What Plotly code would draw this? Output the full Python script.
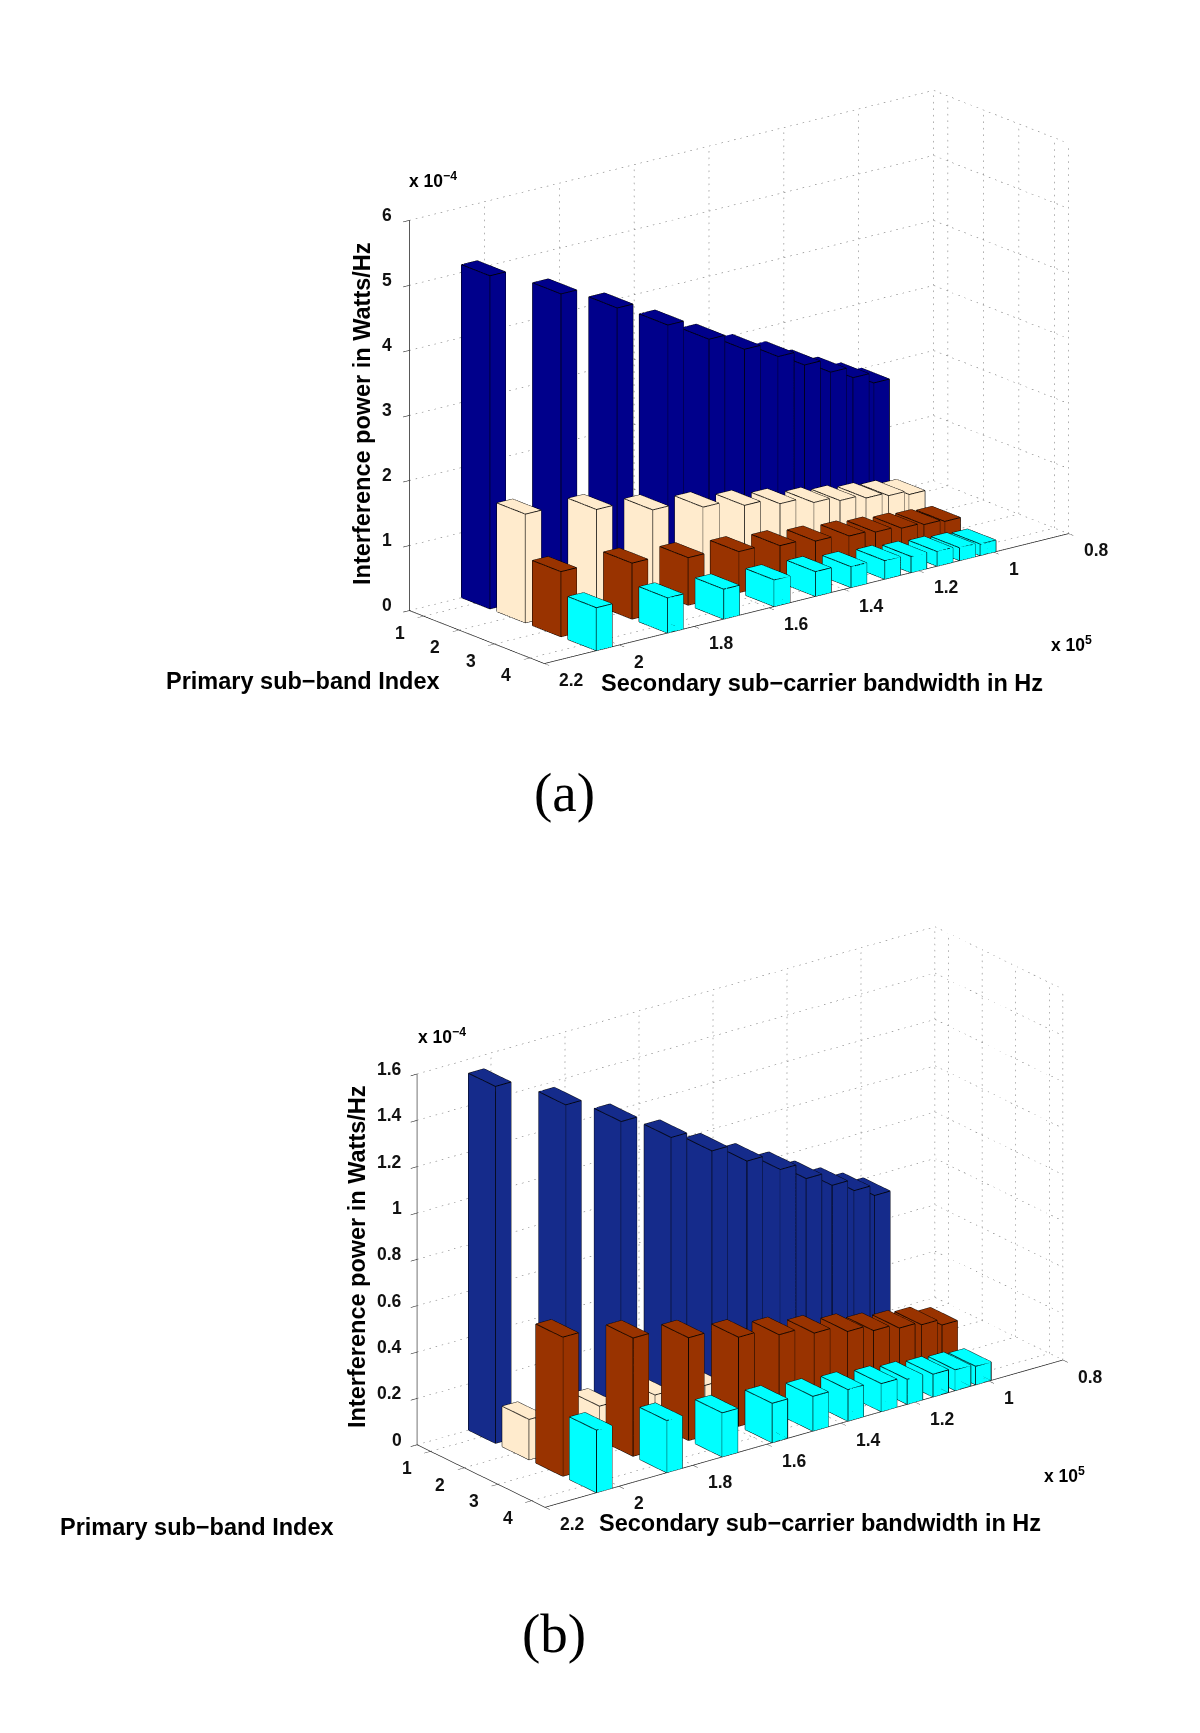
import plotly.graph_objects as go

W, H = 1200, 1733
bandwidth = [2.04, 1.85, 1.70, 1.565, 1.455, 1.36, 1.27, 1.20, 1.13, 1.07, 1.015]
indices = [1, 2, 3, 4]
x_ticks = [1, 2, 3, 4]
y_ticks = [2.2, 2, 1.8, 1.6, 1.4, 1.2, 1, 0.8]
a_z_ticks = [0, 1, 2, 3, 4, 5, 6]
b_z_ticks = [0, 0.2, 0.4, 0.6, 0.8, 1, 1.2, 1.4, 1.6]

a_series1 = [5.12, 4.57, 4.14, 3.685, 3.31, 3.02, 2.78, 2.55, 2.34, 2.17, 2.01]
a_series2 = [1.67, 1.47, 1.25, 1.10, 0.97, 0.86, 0.75, 0.68, 0.62, 0.57, 0.51]
a_series3 = [1.0, 0.86, 0.73, 0.63, 0.565, 0.50, 0.45, 0.41, 0.37, 0.34, 0.31]
a_series4 = [0.66, 0.54, 0.46, 0.41, 0.38, 0.32, 0.285, 0.25, 0.225, 0.197, 0.176]

b_series1 = [1.54, 1.374, 1.234, 1.104, 0.996, 0.909, 0.832, 0.761, 0.70, 0.65, 0.604]
b_series2 = [0.174, 0.145, 0.125, 0.105, 0.095, 0.085, 0.077, 0.07, 0.062, 0.057, 0.052]
b_series3 = [0.6, 0.51, 0.443, 0.384, 0.345, 0.309, 0.275, 0.247, 0.226, 0.213, 0.187]
b_series4 = [0.27, 0.225, 0.19, 0.17, 0.15, 0.136, 0.121, 0.108, 0.098, 0.09, 0.08]

A_COLORS = ["#00008b", "#ffebcd", "#993300", "#00ffff"]
B_COLORS = ["#152b8b", "#ffebcd", "#993300", "#00ffff"]
XMIN, XMAX = 0.6, 4.4
YNEAR, YFAR = 2.2, 0.8
HX, HY = 0.4, 0.021
FONT = "Liberation Sans"
TICK_SIZE = 17.5
LABEL_SIZE = 23.5


def bars(fig, scene, series, colors):
    for i, values, color in zip(indices, series, colors):
        vx, vy, vz, fi, fj, fk = [], [], [], [], [], []
        ex, ey, ez = [], [], []
        for b, v in zip(bandwidth, values):
            n = len(vx)
            for zz in (0, v):
                for xx, yy in ((i - HX, b + HY), (i + HX, b + HY), (i + HX, b - HY), (i - HX, b - HY)):
                    vx.append(xx); vy.append(-yy); vz.append(zz)
            quads = [(0, 1, 2, 3), (4, 5, 6, 7), (0, 1, 5, 4), (1, 2, 6, 5), (2, 3, 7, 6), (3, 0, 4, 7)]
            for q in quads:
                fi += [n + q[0], n + q[0]]
                fj += [n + q[1], n + q[2]]
                fk += [n + q[2], n + q[3]]
            for p, q in [(0, 1), (1, 2), (2, 3), (3, 0), (4, 5), (5, 6), (6, 7), (7, 4), (0, 4), (1, 5), (2, 6), (3, 7)]:
                ex += [vx[n + p], vx[n + q], None]
                ey += [vy[n + p], vy[n + q], None]
                ez += [vz[n + p], vz[n + q], None]
        fig.add_trace(go.Mesh3d(x=vx, y=vy, z=vz, i=fi, j=fj, k=fk, color=color, flatshading=True,
                                lighting=dict(ambient=1, diffuse=0, specular=0, fresnel=0, roughness=1),
                                scene=scene, hoverinfo="skip", showscale=False))
        fig.add_trace(go.Scatter3d(x=ex, y=ey, z=ez, mode="lines", line=dict(color="#000000", width=1.7),
                                   scene=scene, hoverinfo="skip", showlegend=False))


def grid(fig, scene, zticks):
    gx, gy, gz = [], [], []
    zt, zb = zticks[-1], zticks[0]

    def seg(a, b, n):
        # one dotted grid line: n short dashes between the two ends
        for k in range(n):
            s = k / n
            e = (k + 0.25) / n
            for t in (s, e):
                gx.append(a[0] + (b[0] - a[0]) * t)
                gy.append(-(a[1] + (b[1] - a[1]) * t))
                gz.append(a[2] + (b[2] - a[2]) * t)
            gx.append(None); gy.append(None); gz.append(None)

    NX, NY, NZ = 22, 84, 60
    for t in x_ticks:
        seg((t, YNEAR, zb), (t, YFAR, zb), NY)
        seg((t, YFAR, zb), (t, YFAR, zt), NZ)
    for t in y_ticks:
        seg((XMIN, t, zb), (XMAX, t, zb), NX)
        seg((XMIN, t, zb), (XMIN, t, zt), NZ)
    for t in zticks:
        seg((XMIN, YNEAR, t), (XMIN, YFAR, t), NY)
        seg((XMIN, YFAR, t), (XMAX, YFAR, t), NX)
    seg((XMAX, YFAR, zb), (XMAX, YFAR, zt), NZ)
    fig.add_trace(go.Scatter3d(x=gx, y=gy, z=gz, mode="lines", scene=scene, hoverinfo="skip", showlegend=False,
                               line=dict(color="#666666", width=1)))


def scene_layout(zticks, eye, dom, k, zxshift):
    notes = []
    f = dict(family=FONT, size=TICK_SIZE, color="#111111")
    for t in x_ticks:
        notes.append(dict(x=t, y=-YNEAR, z=zticks[0], text="<b>%g</b>" % t, showarrow=False,
                          xshift=-24, yshift=-17, font=f))
    for t in y_ticks:
        notes.append(dict(x=XMAX, y=-t, z=zticks[0], text="<b>%g</b>" % t, showarrow=False, xanchor="left",
                          xshift=13, yshift=-17, font=f))
    for t in zticks:
        notes.append(dict(x=XMIN, y=-YNEAR, z=t, text="<b>%g</b>" % t, showarrow=False, xanchor="right",
                          xshift=zxshift, yshift=5, font=f))
    axis = dict(showgrid=False, zeroline=False, showbackground=False, showticklabels=False, showline=True,
                linecolor="#222222", linewidth=1.5, ticks="outside", ticklen=8, tickcolor="#222222", tickwidth=1.2,
                showspikes=False, title=dict(text=""))
    return dict(domain=dict(x=[dom[0] / W, dom[2] / W], y=[1 - dom[3] / H, 1 - dom[1] / H]),
                camera=dict(projection=dict(type="orthographic"), eye=eye, up=dict(x=0, y=0, z=1),
                            center=dict(x=0, y=0, z=0)),
                aspectmode="manual", aspectratio=dict(x=0.528 * k, y=1.63 * k, z=k),
                xaxis=dict(axis, range=[XMIN, XMAX], tickvals=x_ticks),
                yaxis=dict(axis, range=[-YNEAR, -YFAR], tickvals=[-t for t in y_ticks]),
                zaxis=dict(axis, range=[zticks[0], zticks[-1]], tickvals=zticks),
                annotations=notes)


fig = go.Figure()
grid(fig, "scene", a_z_ticks)
bars(fig, "scene", [a_series1, a_series2, a_series3, a_series4], A_COLORS)
grid(fig, "scene2", b_z_ticks)
bars(fig, "scene2", [b_series1, b_series2, b_series3, b_series4], B_COLORS)

D = 2.2
PAGE_MARGIN = 8


def text(x, y, s, size, family=FONT, angle=0, color="#000000"):
    return dict(x=(x - PAGE_MARGIN) / W, y=1 - (y - PAGE_MARGIN) / H, xref="paper", yref="paper", text=s,
                showarrow=False, textangle=angle, font=dict(family=family, size=size, color=color),
                xanchor="center", yanchor="middle")


labels = [
    text(303, 681, "<b>Primary sub−band Index</b>", LABEL_SIZE),
    text(822, 683, "<b>Secondary sub−carrier bandwidth in Hz</b>", LABEL_SIZE),
    text(362, 414, "<b>Interference power in Watts/Hz</b>", LABEL_SIZE, angle=-90),
    text(433, 180, "<b>x 10<sup>−4</sup></b>", 17.5),
    text(1071, 644, "<b>x 10<sup>5</sup></b>", 17.5),
    text(564, 792, "(a)", 55, family="Liberation Serif"),
    text(197, 1527, "<b>Primary sub−band Index</b>", LABEL_SIZE),
    text(820, 1523, "<b>Secondary sub−carrier bandwidth in Hz</b>", LABEL_SIZE),
    text(357, 1257, "<b>Interference power in Watts/Hz</b>", LABEL_SIZE, angle=-90),
    text(442, 1036, "<b>x 10<sup>−4</sup></b>", 17.5),
    text(1064, 1475, "<b>x 10<sup>5</sup></b>", 17.5),
    text(554, 1633, "(b)", 55, family="Liberation Serif"),
]

fig.update_layout(
    width=W, height=H, margin=dict(l=0, r=0, t=0, b=0), paper_bgcolor="white", showlegend=False,
    scene=scene_layout(a_z_ticks, dict(x=0.744 * D, y=-0.591 * D, z=0.312 * D), (371, 8.5, 1091, 728.5), 1.141, -15),
    scene2=scene_layout(b_z_ticks, dict(x=0.738 * D, y=-0.563 * D, z=0.373 * D), (372, 849, 1092, 1569), 1.11, -13),
    annotations=labels,
)
fig.write_html("out.html")
